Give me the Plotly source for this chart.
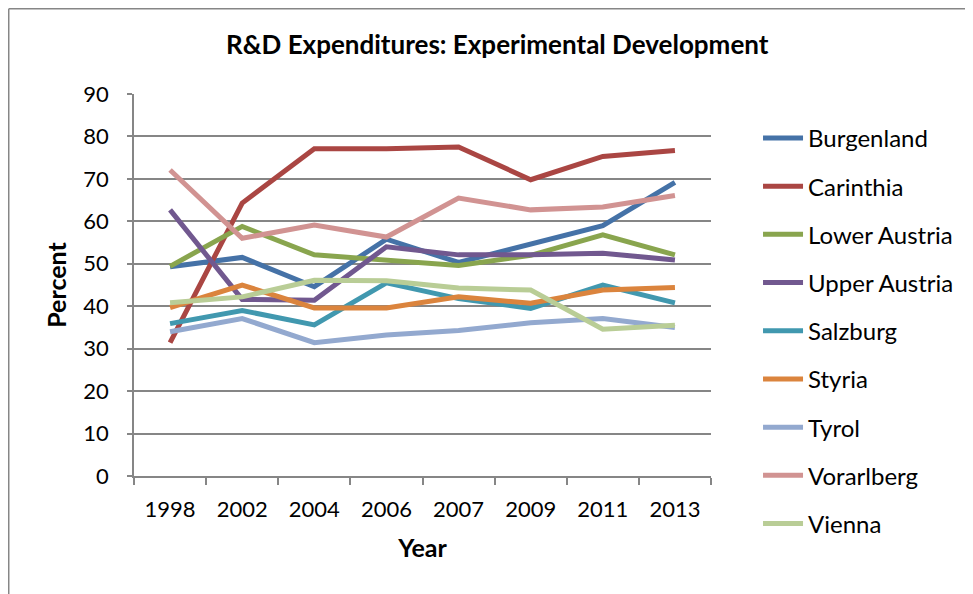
import plotly.graph_objects as go

years = ["1998", "2002", "2004", "2006", "2007", "2009", "2011", "2013"]
burgenland = [49.3, 51.5, 44.6, 55.8, 50.3, 54.8, 59.0, 69.2]
carinthia = [31.4, 64.3, 77.1, 77.1, 77.5, 69.8, 75.3, 76.7]
lower_austria = [49.4, 58.8, 52.1, 50.9, 49.6, 52.0, 56.8, 52.1]
upper_austria = [62.7, 41.6, 41.4, 54.0, 52.1, 52.1, 52.5, 50.9]
salzburg = [35.9, 39.0, 35.6, 45.5, 41.8, 39.5, 45.0, 40.8]
styria = [39.7, 45.0, 39.6, 39.6, 42.2, 40.7, 43.8, 44.4]
tyrol = [34.0, 37.1, 31.4, 33.2, 34.3, 36.1, 37.1, 35.0]
vorarlberg = [72.1, 56.0, 59.1, 56.3, 65.5, 62.7, 63.4, 66.1]
vienna = [40.8, 42.2, 46.1, 46.0, 44.3, 43.8, 34.6, 35.5]

series = [
    ("Burgenland", burgenland, "#4572A7"),
    ("Carinthia", carinthia, "#AA4643"),
    ("Lower Austria", lower_austria, "#89A54E"),
    ("Upper Austria", upper_austria, "#71588F"),
    ("Salzburg", salzburg, "#4198AF"),
    ("Styria", styria, "#DB843D"),
    ("Tyrol", tyrol, "#93A9CF"),
    ("Vorarlberg", vorarlberg, "#D19392"),
    ("Vienna", vienna, "#B9CD96"),
]

FONT = "Lato"

fig = go.Figure()
for name, vals, color in series:
    fig.add_trace(go.Scatter(
        x=years, y=vals, name=name, mode="lines",
        line=dict(color=color, width=5),
        legendgroup=name,
    ))

fig.update_layout(
    width=965, height=586,
    margin=dict(l=126, r=262, t=86, b=118),
    paper_bgcolor="white", plot_bgcolor="white",
    font=dict(family=FONT, size=22, color="black"),
    title=dict(text="<b>R&D Expenditures: Experimental Development</b>",
               x=0.507, xanchor="center", y=0.937, yanchor="middle",
               font=dict(family=FONT, size=26, color="black")),
    showlegend=True,
    legend=dict(x=1.0815, xanchor="left", y=0.38, yanchor="middle",
                font=dict(family=FONT, size=24, color="black"),
                tracegroupgap=14, itemwidth=40, bgcolor="rgba(0,0,0,0)",
                maxheight=580),
    xaxis=dict(
        type="category", range=[-0.5, 7.5],
        showline=True, linecolor="#868686", linewidth=1.5,
        ticks="outside", ticklen=7, tickcolor="#868686", tickwidth=1.5,
        tickson="boundaries", showgrid=False,
        title=dict(text="<b>Year</b>", font=dict(family=FONT, size=25), standoff=18),
        tickfont=dict(family=FONT, size=22),
        ticklabelstandoff=13,
    ),
    yaxis=dict(
        range=[0, 90], dtick=10,
        showline=True, linecolor="#868686", linewidth=1.5,
        ticks="outside", ticklen=5, tickcolor="#868686", tickwidth=1.5,
        showgrid=True, gridcolor="#868686", gridwidth=1.5,
        zeroline=False,
        title=dict(text="<b>Percent</b>", font=dict(family=FONT, size=25), standoff=10),
        tickfont=dict(family=FONT, size=22),
        ticklabelstandoff=14,
    ),
)

# outer chart border (left and top visible)
fig.add_shape(type="line", xref="paper", yref="paper",
              x0=-0.2171, x1=-0.2171, y0=-0.32, y1=1.2232,
              line=dict(color="#868686", width=1.5))
fig.add_shape(type="line", xref="paper", yref="paper",
              x0=-0.2171, x1=1.5, y0=1.2232, y1=1.2232,
              line=dict(color="#868686", width=1.5))

fig.write_html("out.html")
